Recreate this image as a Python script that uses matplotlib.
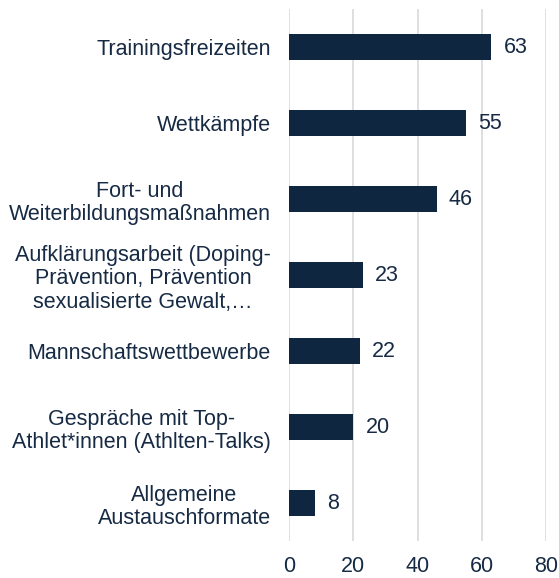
import matplotlib
matplotlib.use("Agg")
import matplotlib.pyplot as plt

categories = [
    "Trainingsfreizeiten",
    "Wettkämpfe",
    "Fort- und\nWeiterbildungsmaßnahmen",
    "Aufklärungsarbeit (Doping-\nPrävention, Prävention\nsexualisierte Gewalt,…",
    "Mannschaftswettbewerbe",
    "Gespräche mit Top-\nAthlet*innen (Athlten-Talks)",
    "Allgemeine\nAustauschformate",
]
values = [63, 55, 46, 23, 22, 20, 8]
xticks = [0, 20, 40, 60, 80]

bar_color = "#0f2640"
text_color = "#172a44"
grid_color = "#d9d9d9"

plt.rcParams['font.family'] = ['Liberation Sans', 'DejaVu Sans']
fs = 15.5

fig = plt.figure(figsize=(5.59, 5.78), dpi=100)
ax = fig.add_axes([289/559, 1-541/578, (546-289)/559, (541-9)/578])

y = list(range(len(categories)))
ax.barh(y, values, height=0.35, color=bar_color, zorder=3)
ax.set_ylim(len(categories)-0.5, -0.5)
ax.set_xlim(0, 80)
ax.set_xticks(xticks)
ax.set_xticklabels([str(t) for t in xticks], fontsize=fs, color=text_color)
ax.set_yticks(y)
ax.set_yticklabels(categories, fontsize=fs, color=text_color, multialignment='center',
                   linespacing=1.15)
ax.tick_params(axis='both', length=0)
ax.tick_params(axis='x', pad=11)
ax.tick_params(axis='y', pad=13)
for s in ax.spines.values():
    s.set_visible(False)
ax.grid(axis='x', color=grid_color, linewidth=1.2, zorder=0)

for yi, v in zip(y, values):
    ax.text(v + 3.8, yi, str(v), va='center', ha='left', fontsize=fs, color=text_color)

fig.savefig("out.png", dpi=100)
